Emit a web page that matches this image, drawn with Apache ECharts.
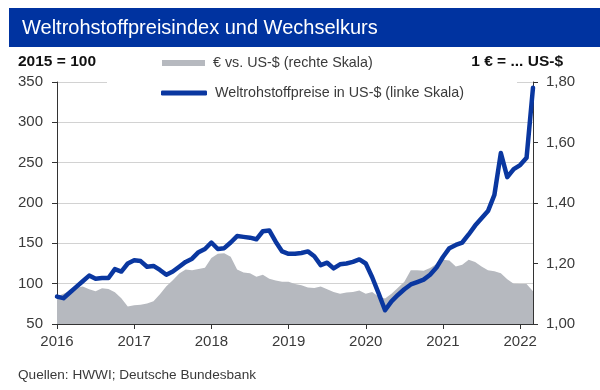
<!DOCTYPE html>
<html>
<head>
<meta charset="utf-8">
<script src="https://cdn.jsdelivr.net/npm/echarts@6/dist/echarts.min.js"></script>
<style>
html,body{margin:0;padding:0;background:#fff;}
#c{width:600px;height:390px;}
</style>
</head>
<body>
<div id="c"></div>
<script>
// Monthly categories Jan 2016 .. Mar 2022
var startYear = 2016;
var monthCount = 75;
var months = [];
for (var k = 0; k < monthCount; k++) {
  var y = startYear + Math.floor(k / 12);
  var m = (k % 12) + 1;
  months.push(y + '-' + (m < 10 ? '0' + m : m));
}

// Weltrohstoffpreise in US-$ (linke Skala), 2015 = 100
var commodityIndex = [
  84, 82, 89, 96, 103, 110, 106, 107, 107, 118, 115, 125,
  129, 128, 121, 122, 117, 111, 115, 121, 127, 131, 139, 143,
  151, 143, 144, 151, 159, 158, 157, 155, 165, 166, 152, 140,
  137, 137, 138, 140, 134, 123, 126, 119, 124, 125, 127, 130,
  125, 108, 88, 67, 78, 86, 93, 99, 102, 105, 111, 120,
  133, 144, 148, 151, 161, 172, 181, 190, 210, 262, 232, 242,
  247, 256, 343
];

// € vs. US-$ (rechte Skala)
var eurUsd = [
  1.091, 1.100, 1.110, 1.120, 1.124, 1.115, 1.108, 1.118, 1.116, 1.105, 1.085, 1.058,
  1.062, 1.064, 1.068, 1.075, 1.098, 1.125, 1.145, 1.167, 1.180, 1.178, 1.182, 1.186,
  1.218, 1.232, 1.234, 1.222, 1.180, 1.170, 1.168, 1.156, 1.163, 1.150, 1.144, 1.140,
  1.140, 1.132, 1.128, 1.121, 1.119, 1.124, 1.115, 1.106, 1.100, 1.104, 1.106, 1.111,
  1.100, 1.106, 1.090, 1.084, 1.100, 1.120, 1.140, 1.178, 1.178, 1.176, 1.185, 1.198,
  1.212, 1.210, 1.190, 1.196, 1.212, 1.205, 1.190, 1.178, 1.174, 1.168, 1.148, 1.133,
  1.132, 1.132, 1.108
];

var seriesNames = ['€ vs. US-$ (rechte Skala)', 'Weltrohstoffpreise in US-$ (linke Skala)'];
var titleText = 'Weltrohstoffpreisindex und Wechselkurs';
var leftUnit = '2015 = 100';
var rightUnit = '1 € = ... US-$';
var sourceText = 'Quellen: HWWI; Deutsche Bundesbank';

var FONT = '"Liberation Sans", Arial, sans-serif';
var BLUE = '#0a37a0';
var GREY = '#b6b9bf';
var TXT = '#3a3a3a';

var chart = echarts.init(document.getElementById('c'), null, {renderer: 'canvas'});
var yearTick = function (idx) { return idx % 12 === 0; };

chart.setOption({
  animation: false,
  backgroundColor: '#fff',
  textStyle: {fontFamily: FONT},
  graphic: [
    {type: 'rect', left: 9, top: 8, shape: {width: 591, height: 39}, style: {fill: '#0033a0'}, z: 10},
    {type: 'text', x: 22, y: 28, style: {text: titleText, fill: '#fff', font: '20px ' + FONT, textVerticalAlign: 'middle'}, z: 11},
    {type: 'text', x: 18, y: 62, style: {text: leftUnit, fill: '#111', font: 'bold 15.5px ' + FONT, textVerticalAlign: 'middle'}, z: 11},
    {type: 'text', x: 563, y: 62, style: {text: rightUnit, fill: '#111', font: 'bold 15.5px ' + FONT, textAlign: 'right', textVerticalAlign: 'middle'}, z: 11},
    {type: 'text', x: 18, y: 375, style: {text: sourceText, fill: TXT, font: '13.6px ' + FONT, textVerticalAlign: 'middle'}, z: 11},
    {type: 'rect', left: 107, top: 79, shape: {width: 410, height: 6}, style: {fill: '#fff'}, z: 1}
  ],
  legend: [
    {
      left: 162, top: 56, padding: 0,
      itemWidth: 43, itemHeight: 6,
      textStyle: {fontFamily: FONT, fontSize: 14.3, color: TXT, padding: [0, 0, 0, 3]},
      data: [{name: seriesNames[0], icon: 'rect', itemStyle: {color: GREY}}],
      selectedMode: false
    },
    {
      left: 161, top: 86, padding: 0,
      itemWidth: 46, itemHeight: 5,
      textStyle: {fontFamily: FONT, fontSize: 14.3, color: TXT, padding: [0, 0, 0, 3]},
      data: [{name: seriesNames[1], icon: 'roundRect', itemStyle: {color: BLUE}}],
      selectedMode: false
    }
  ],
  grid: {left: 57, right: 67, top: 82, bottom: 66, containLabel: false},
  xAxis: {
    type: 'category',
    data: months,
    boundaryGap: false,
    axisLine: {lineStyle: {color: '#333', width: 1}},
    axisTick: {show: true, interval: yearTick, length: 5, lineStyle: {color: '#333'}},
    axisLabel: {
      interval: yearTick,
      formatter: function (v) { return v.slice(0, 4); },
      fontFamily: FONT, fontSize: 15, color: TXT, margin: 10
    },
    splitLine: {show: false}
  },
  yAxis: [
    {
      type: 'value', min: 50, max: 350, interval: 50, position: 'left',
      axisLine: {show: true, lineStyle: {color: '#333', width: 1}},
      axisTick: {show: true, length: 5, lineStyle: {color: '#333'}},
      axisLabel: {fontFamily: FONT, fontSize: 15, color: TXT, margin: 14},
      splitLine: {show: true, lineStyle: {color: '#d2d2d2', width: 1}}
    },
    {
      type: 'value', min: 1.0, max: 1.8, interval: 0.2, position: 'right',
      axisLine: {show: true, lineStyle: {color: '#333', width: 1}},
      axisTick: {show: true, length: 5, lineStyle: {color: '#333'}},
      axisLabel: {
        fontFamily: FONT, fontSize: 15, color: TXT, margin: 13,
        formatter: function (v) { return v.toFixed(2).replace('.', ','); }
      },
      splitLine: {show: false}
    }
  ],
  series: [
    {
      name: seriesNames[0],
      type: 'line',
      yAxisIndex: 1,
      data: eurUsd,
      showSymbol: false,
      symbol: 'none',
      lineStyle: {width: 0, color: GREY},
      itemStyle: {color: GREY},
      areaStyle: {color: GREY, opacity: 1, origin: 'start'},
      z: 1
    },
    {
      name: seriesNames[1],
      type: 'line',
      yAxisIndex: 0,
      data: commodityIndex,
      showSymbol: false,
      symbol: 'none',
      lineStyle: {width: 4.5, color: BLUE, cap: 'round', join: 'round'},
      itemStyle: {color: BLUE},
      z: 3
    }
  ]
});
</script>
</body>
</html>
